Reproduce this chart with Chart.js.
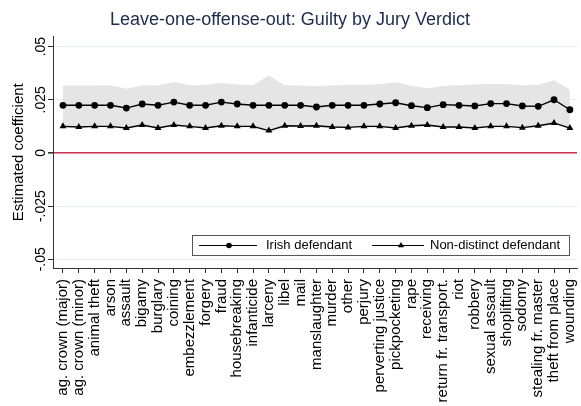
<!DOCTYPE html>
<html>
<head>
<meta charset="utf-8">
<script src="https://cdn.jsdelivr.net/npm/chart.js@4.4.0/dist/chart.umd.min.js"></script>
<style>
  html, body { margin: 0; padding: 0; background: #fff; }
  #wrap { width: 581px; height: 406px; }
</style>
</head>
<body>
<div id="wrap"><canvas id="chartOffense"></canvas></div>
<script>
var offenses = ['ag. crown (major)', 'ag. crown (minor)', 'animal theft', 'arson', 'assault',
  'bigamy', 'burglary', 'coining', 'embezzlement', 'forgery', 'fraud', 'housebreaking',
  'infanticide', 'larceny', 'libel', 'mail', 'manslaughter', 'murder', 'other', 'perjury',
  'perverting justice', 'pickpocketing', 'rape', 'receiving', 'return fr. transport.', 'riot',
  'robbery', 'sexual assault', 'shoplifting', 'sodomy', 'stealing fr. master',
  'theft from place', 'wounding'];

var irish = [0.0224, 0.0224, 0.0224, 0.0224, 0.0211, 0.0230, 0.0224, 0.0239, 0.0224, 0.0224,
  0.0239, 0.0230, 0.0224, 0.0224, 0.0224, 0.0224, 0.0216, 0.0224, 0.0224, 0.0224,
  0.0230, 0.0236, 0.0222, 0.0213, 0.0227, 0.0224, 0.0221, 0.0232, 0.0232, 0.0221,
  0.0219, 0.0250, 0.0203];

var nonDistinct = [0.0125, 0.0122, 0.0125, 0.0125, 0.0117, 0.0131, 0.0117, 0.0131, 0.0125, 0.0117,
  0.0128, 0.0125, 0.0125, 0.0105, 0.0128, 0.0127, 0.0128, 0.0122, 0.0120, 0.0125,
  0.0125, 0.0117, 0.0128, 0.0131, 0.0122, 0.0122, 0.0117, 0.0125, 0.0125, 0.0119,
  0.0128, 0.0141, 0.0117];

// confidence band around the Irish estimate
var bandHigh = [0.0317, 0.0317, 0.0317, 0.0318, 0.0302, 0.0318, 0.0317, 0.0333, 0.0318, 0.0320,
  0.0329, 0.0322, 0.0320, 0.0364, 0.0318, 0.0317, 0.0313, 0.0318, 0.0319, 0.0320,
  0.0323, 0.0333, 0.0315, 0.0304, 0.0315, 0.0318, 0.0322, 0.0324, 0.0324, 0.0318,
  0.0320, 0.0342, 0.0297];
var bandLow = [0.0120, 0.0120, 0.0120, 0.0120, 0.0120, 0.0122, 0.0120, 0.0124, 0.0120, 0.0119,
  0.0122, 0.0121, 0.0120, 0.0092, 0.0121, 0.0121, 0.0118, 0.0120, 0.0119, 0.0120,
  0.0120, 0.0121, 0.0121, 0.0122, 0.0121, 0.0120, 0.0118, 0.0120, 0.0120, 0.0117,
  0.0118, 0.0135, 0.0112];

var yTicks = [-0.05, -0.025, 0, 0.025, 0.05];
var yTickLabels = ['-.05', '-.025', '0', '.025', '.05'];

var FONT = "'Liberation Sans', Arial, Helvetica, sans-serif";

function points(arr) {
  return arr.map(function (v, i) { return {x: i, y: v}; });
}

// legend in a box, each key is a short line with the marker in the middle
var boxLegend = {
  id: 'boxLegend',
  afterDatasetsDraw: function (chart) {
    var ctx = chart.ctx;
    var ca = chart.chartArea;
    var x0 = ca.right - 385, y0 = ca.bottom - 33, w = 377, h = 20;
    var keys = [
      {ds: chart.data.datasets[0], l1: 7, l2: 65, m: 37, t: 74},
      {ds: chart.data.datasets[1], l1: 180, l2: 232, m: 209, t: 238}
    ];
    ctx.save();
    ctx.fillStyle = '#fff';
    ctx.fillRect(x0, y0, w, h);
    ctx.strokeStyle = '#555';
    ctx.lineWidth = 1;
    ctx.strokeRect(x0 + 0.5, y0 + 0.5, w, h);
    var cy = y0 + h / 2 + 0.5;
    keys.forEach(function (k) {
      ctx.strokeStyle = '#000';
      ctx.lineWidth = 1.2;
      ctx.beginPath();
      ctx.moveTo(x0 + k.l1, cy);
      ctx.lineTo(x0 + k.l2, cy);
      ctx.stroke();
      ctx.fillStyle = '#000';
      Chart.helpers.drawPoint(ctx, {
        pointStyle: k.ds.pointStyle,
        radius: k.ds.pointStyle === 'triangle' ? 3.6 : 2.8,
        rotation: 0,
        borderWidth: 0
      }, x0 + k.m, cy);
      ctx.fillStyle = '#000';
      ctx.font = '13px ' + FONT;
      ctx.textBaseline = 'middle';
      ctx.textAlign = 'left';
      ctx.fillText(k.ds.label, x0 + k.t, cy);
    });
    ctx.restore();
  }
};

var ctx1 = document.getElementById('chartOffense').getContext('2d');
var chart1 = new Chart(ctx1, {
  type: 'line',
  data: {
    datasets: [{
        label: 'Irish defendant',
        data: points(irish),
        borderColor: '#000',
        backgroundColor: '#000',
        borderWidth: 1.4,
        pointStyle: 'circle',
        pointRadius: 3.4,
        pointBorderWidth: 0,
        fill: false
    },
    {
        label: 'Non-distinct defendant',
        data: points(nonDistinct),
        borderColor: '#000',
        backgroundColor: '#000',
        borderWidth: 1.4,
        pointStyle: 'triangle',
        pointRadius: 4,
        pointBorderWidth: 0,
        fill: false
    },
    {
        label: 'upper',
        data: points(bandHigh),
        borderWidth: 0,
        pointRadius: 0,
        backgroundColor: '#e5e5e5',
        fill: '+1'
    },
    {
        label: 'lower',
        data: points(bandLow),
        borderWidth: 0,
        pointRadius: 0,
        fill: false
    }]
  },
  options: {
    responsive: true,
    maintainAspectRatio: false,
    animation: false,
    layout: { padding: { left: 0, right: 1, top: 0, bottom: 0 } },
    elements: { line: { tension: 0 } },
    plugins: {
      legend: { display: false },
      tooltip: { enabled: false },
      title: {
        display: true,
        text: 'Leave-one-offense-out: Guilty by Jury Verdict',
        color: '#1c2b4e',
        font: { family: FONT, size: 18, weight: 'normal' },
        padding: { top: 9, bottom: 6 }
      }
    },
    scales: {
      x: {
        type: 'linear',
        min: -0.63,
        max: 32.45,
        afterBuildTicks: function (scale) {
          scale.ticks = offenses.map(function (o, i) { return {value: i}; });
        },
        afterFit: function (scale) {
          scale.height = 138;
          scale.paddingLeft = 0;
          scale.paddingRight = 0;
        },
        ticks: {
          autoSkip: false,
          minRotation: 90,
          maxRotation: 90,
          padding: 6,
          color: '#000',
          font: { family: FONT, size: 15 },
          callback: function (v) { return offenses[v]; }
        },
        grid: { drawOnChartArea: false, tickLength: 5, tickColor: '#333', tickWidth: 1 },
        border: { color: '#333', width: 1 }
      },
      y: {
        min: -0.0541,
        max: 0.0547,
        afterBuildTicks: function (scale) {
          scale.ticks = yTicks.map(function (v) { return {value: v}; });
        },
        afterFit: function (scale) {
          scale.width = 53;
          scale.paddingTop = 0;
          scale.paddingBottom = 0;
        },
        ticks: {
          minRotation: 90,
          maxRotation: 90,
          crossAlign: 'center',
          padding: -9,
          color: '#000',
          font: { family: FONT, size: 14 },
          callback: function (v) { return yTickLabels[yTicks.indexOf(v)]; }
        },
        grid: {
          color: function (c) { return c.tick && c.tick.value === 0 ? '#c9304f' : '#e4eef1'; },
          lineWidth: function (c) { return c.tick && c.tick.value === 0 ? 1.6 : 1; },
          tickLength: 5,
          tickColor: '#333'
        },
        border: { color: '#333', width: 1 },
        title: {
          display: true,
          text: 'Estimated coefficient',
          color: '#000',
          font: { family: FONT, size: 15 },
          padding: { top: 10, bottom: 0 }
        }
      }
    }
  },
  plugins: [boxLegend]
});
</script>
</body>
</html>
